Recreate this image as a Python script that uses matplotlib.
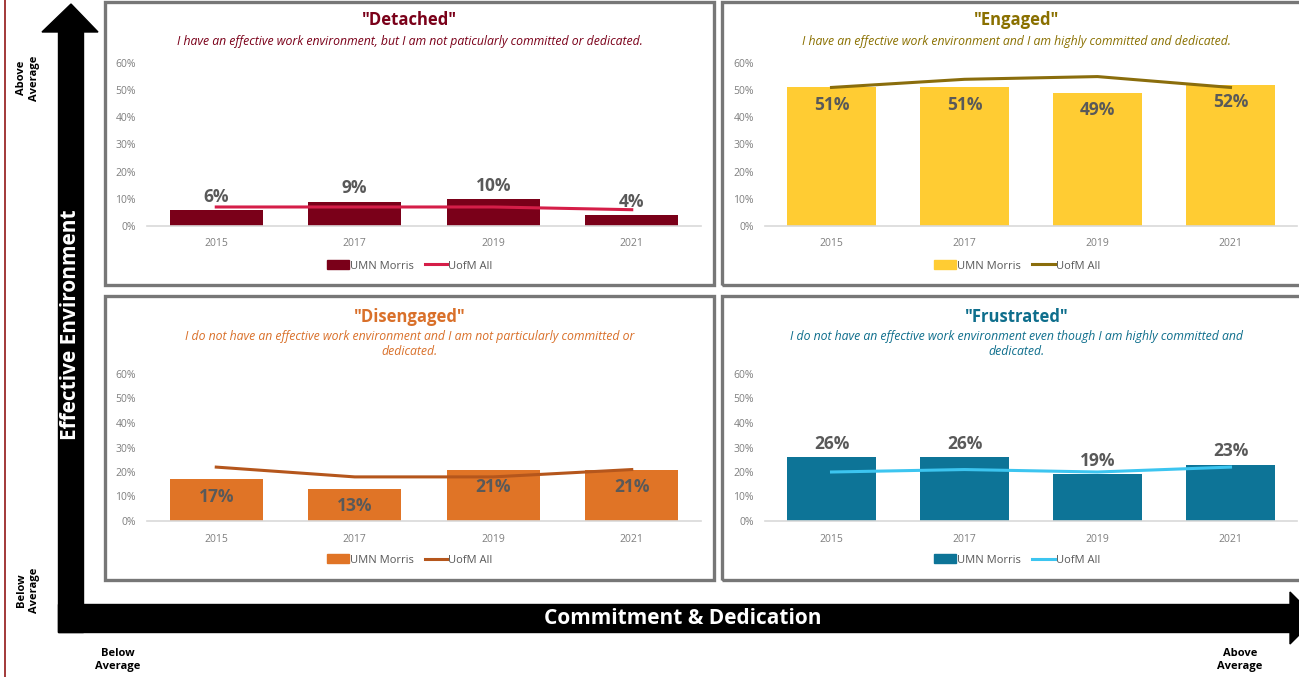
import matplotlib
matplotlib.use("Agg")
import matplotlib.pyplot as plt
from matplotlib.patches import Rectangle, Polygon, Patch
from matplotlib.lines import Line2D

plt.rcParams["font.family"] = ["Open Sans", "DejaVu Sans"]

W, H = 1299, 677

years = ["2015", "2017", "2019", "2021"]
y_ticks = [0, 10, 20, 30, 40, 50, 60]

detached_morris = [6, 9, 10, 4]
detached_uofm = [7, 7, 7, 6]
engaged_morris = [51, 51, 49, 52]
engaged_uofm = [51, 54, 55, 51]
disengaged_morris = [17, 13, 21, 21]
disengaged_uofm = [22, 18, 18, 21]
frustrated_morris = [26, 26, 19, 23]
frustrated_uofm = [20, 21, 20, 22]

titles = ['"Detached"', '"Engaged"', '"Disengaged"', '"Frustrated"']
subtitles = [
    "I have an effective work environment, but I am not paticularly committed or dedicated.",
    "I have an effective work environment and I am highly committed and dedicated.",
    "I do not have an effective work environment and I am not particularly committed or\ndedicated.",
    "I do not have an effective work environment even though I am highly committed and\ndedicated.",
]
series_names = ["UMN Morris", "UofM All"]


def px_rect(x0, y0, x1, y1):
    # pixel box (top-left origin) -> figure fraction rect
    return [x0 / W, 1 - y1 / H, (x1 - x0) / W, (y1 - y0) / H]


def fx(x):
    return x / W


def fy(y):
    return 1 - y / H


fig = plt.figure(figsize=(W / 100, H / 100), dpi=100)
fig.patch.set_facecolor("white")

# ---- quadrant arrows ------------------------------------------------------
fig.add_artist(Line2D([fx(5), fx(5)], [0, 1], color="#9b2a2a", lw=1.3))
fig.add_artist(Rectangle((fx(58), fy(632)), fx(83) - fx(58), fy(30) - fy(632),
                         color="black", transform=fig.transFigure))
fig.add_artist(Polygon([(fx(42), fy(32)), (fx(98), fy(32)), (fx(71), fy(4))],
                       closed=True, color="black", transform=fig.transFigure))
fig.add_artist(Rectangle((fx(58), fy(632)), fx(1294) - fx(58), fy(604) - fy(632),
                         color="black", transform=fig.transFigure))
fig.add_artist(Polygon([(fx(1290), fy(592)), (fx(1290), fy(644)), (fx(1316), fy(618))],
                       closed=True, color="black", transform=fig.transFigure))

fig.text(fx(71), fy(325), "Effective Environment", rotation=90, color="white",
         fontsize=15, fontweight="bold", ha="center", va="center")
fig.text(fx(683), fy(618), "Commitment & Dedication", color="white",
         fontsize=15, fontweight="bold", ha="center", va="center")
fig.text(fx(28), fy(78), "Above\nAverage", rotation=90, fontsize=8, fontweight="bold",
         ha="center", va="center", linespacing=1.3)
fig.text(fx(28), fy(590), "Below\nAverage", rotation=90, fontsize=8, fontweight="bold",
         ha="center", va="center", linespacing=1.3)
fig.text(fx(118), fy(660), "Below\nAverage", fontsize=8, fontweight="bold",
         ha="center", va="center", linespacing=1.3)
fig.text(fx(1240), fy(660), "Above\nAverage", fontsize=8, fontweight="bold",
         ha="center", va="center", linespacing=1.3)

# ---- four quadrant panels -------------------------------------------------
panels = [
    dict(frame=(105, 2, 714, 285), plot=(147, 63, 701, 226), title_y=20, sub_y=42,
         legend_y=266, bars=detached_morris, line=detached_uofm, bar_c="#7a0019",
         line_c="#d51e48", title_c="#7a0019", label_inside=False),
    dict(frame=(722, 2, 1310, 285), plot=(765, 63, 1297, 226), title_y=20, sub_y=42,
         legend_y=266, bars=engaged_morris, line=engaged_uofm, bar_c="#ffcc33",
         line_c="#8a6d0c", title_c="#8a7000", label_inside=True),
    dict(frame=(105, 296, 714, 580), plot=(147, 374, 701, 521), title_y=317, sub_y=344,
         legend_y=560, bars=disengaged_morris, line=disengaged_uofm, bar_c="#e07426",
         line_c="#b5561c", title_c="#d9702a", label_inside=True),
    dict(frame=(722, 296, 1310, 580), plot=(765, 374, 1297, 521), title_y=317, sub_y=344,
         legend_y=560, bars=frustrated_morris, line=frustrated_uofm, bar_c="#0d7497",
         line_c="#3cc5f0", title_c="#0e6e8c", label_inside=False),
]

for i, p in enumerate(panels):
    x0, y0, x1, y1 = p["frame"]
    fig.add_artist(Rectangle((fx(x0), fy(y1)), fx(x1) - fx(x0), fy(y0) - fy(y1),
                             fill=False, edgecolor="#777777", lw=2.4,
                             transform=fig.transFigure))
    cx = (x0 + min(x1, 1299)) / 2 if i % 2 == 0 else 1017
    fig.text(fx(cx), fy(p["title_y"]), titles[i], color=p["title_c"], fontsize=12,
             fontweight="bold", ha="center", va="center")
    fig.text(fx(cx), fy(p["sub_y"]), subtitles[i], color=p["title_c"], fontsize=8.8,
             style="italic", ha="center", va="center", linespacing=1.25)

    ax = fig.add_axes(px_rect(*p["plot"]))
    xs = range(len(years))
    ax.bar(xs, p["bars"], width=0.67, color=p["bar_c"], zorder=2)
    ax.plot(xs, p["line"], color=p["line_c"], lw=2.2, zorder=3)
    for x, v in zip(xs, p["bars"]):
        if p["label_inside"]:
            ax.annotate(f"{v}%", (x, v), xytext=(0, -6), textcoords="offset points",
                        ha="center", va="top", fontsize=12.5, fontweight="bold",
                        color="#595959", zorder=4)
        else:
            ax.annotate(f"{v}%", (x, v), xytext=(0, 3), textcoords="offset points",
                        ha="center", va="bottom", fontsize=12.5, fontweight="bold",
                        color="#595959", zorder=4)
    ax.set_xlim(-0.5, len(years) - 0.5)
    ax.set_ylim(0, 60)
    ax.set_yticks(y_ticks)
    ax.set_yticklabels([f"{t}%" for t in y_ticks])
    ax.set_xticks(list(xs))
    ax.set_xticklabels(years)
    ax.tick_params(length=0, labelsize=7.5, labelcolor="#7f7f7f")
    ax.tick_params(axis="x", pad=9)
    ax.tick_params(axis="y", pad=8)
    for side in ["top", "right", "left"]:
        ax.spines[side].set_visible(False)
    ax.spines["bottom"].set_color("#d9d9d9")
    ax.spines["bottom"].set_linewidth(1.2)
    ax.patch.set_alpha(0)

    handles = [Patch(color=p["bar_c"]), Line2D([], [], color=p["line_c"], lw=2.2)]
    fig.legend(handles, series_names, loc="center", ncol=2, frameon=False,
               bbox_to_anchor=(fx(cx), fy(p["legend_y"])), fontsize=8,
               labelcolor="#595959", handlelength=2.0, handleheight=0.8,
               handletextpad=0.1, columnspacing=1.0)

fig.savefig("out.png", dpi=100, facecolor="white")
